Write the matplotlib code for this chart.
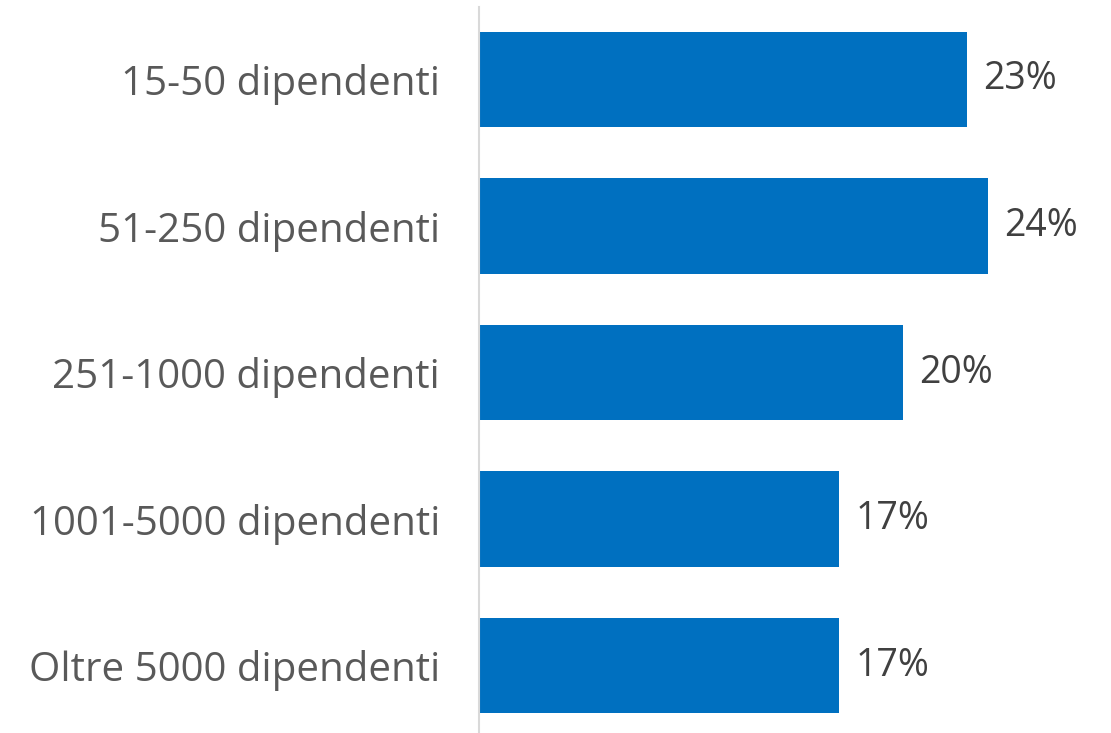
import matplotlib.pyplot as plt

# dati
categorie = ['15-50 dipendenti', '51-250 dipendenti', '251-1000 dipendenti',
             '1001-5000 dipendenti', 'Oltre 5000 dipendenti']
valori = [23, 24, 20, 17, 17]
etichette = ['23%', '24%', '20%', '17%', '17%']

plt.rcParams['font.family'] = ['Open Sans', 'DejaVu Sans']

fig = plt.figure(figsize=(11.11, 7.33), dpi=100)
ax = fig.add_axes([0.431, 0.0, 0.569, 0.9905])

pos = range(len(categorie))
ax.barh(pos, valori, height=0.65, color='#0070C0')

for p, v, t in zip(pos, valori, etichette):
    ax.text(v + 0.75, p, t, va='center', ha='left', fontsize=27, color='#404040')

ax.set_yticks(list(pos))
ax.set_yticklabels(categorie, fontsize=29, color='#595959')
ax.tick_params(axis='y', length=0, pad=28)
ax.set_xticks([])
ax.set_xlim(0, 29.8)
ax.set_ylim(4.46, -0.495)

for s in ['top', 'right', 'bottom']:
    ax.spines[s].set_visible(False)
ax.spines['left'].set_color('#D9D9D9')
ax.spines['left'].set_linewidth(1.5)

fig.savefig('out.png', dpi=100)
